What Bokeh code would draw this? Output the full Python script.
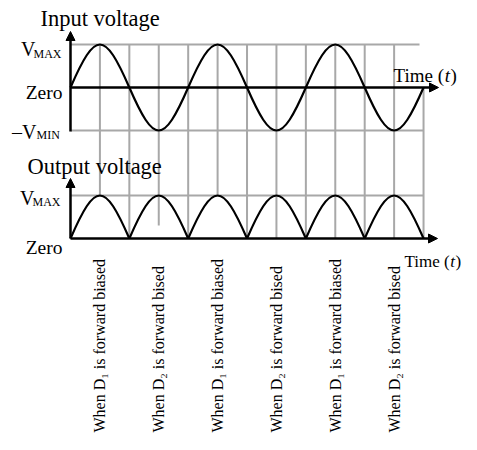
import numpy as np
from bokeh.plotting import figure
from bokeh.models import Range1d, Arrow, NormalHead, ColumnDataSource
from bokeh.core.properties import value
from bokeh.embed import file_html
from bokeh.resources import INLINE

# ---------------- data ----------------
zero_crossings = [0, 2, 4, 6, 8, 10, 12]        # time in grid divisions (quarter periods)
input_peaks = [1, -1, 1, -1, 1, -1]             # +VMAX / -VMIN for each half cycle
output_peaks = [1, 1, 1, 1, 1, 1]               # full-wave rectified output
grid_times = [1, 2, 3, 4, 5, 6, 7, 8, 9, 10, 11, 12]
bias_times = [1, 3, 5, 7, 9, 11]
bias_labels = [
    "When D\u2081 is forward biased",
    "When D\u2082 is forward bised",
    "When D\u2081 is forward biased",
    "When D\u2082 is forward bised",
    "When D\u2081 is forward biased",
    "When D\u2082 is forward bised",
]
input_title = "Input voltage"
output_title = "Output voltage"
zero_label = "Zero"
time_label = ["Time (", "t", ")"]

# ---------------- layout helpers (picture pixels -> data) ----------------
W, HGT = 461, 434
PXU = 29.42   # px per time division
PYU = 43.0    # px per volt unit
def X(px):
    return (px - 70.0) / PXU
def Y(py):
    return (87.0 - py) / PYU

OUT0 = Y(238)           # baseline of output plot
GRAY = "#a8a8a8"
FONT = value("Liberation Serif")

p = figure(width=W, height=HGT, x_range=Range1d(X(0), X(W)),
           y_range=Range1d(Y(HGT), Y(0)), output_backend="svg",
           toolbar_location=None, min_border=0, x_axis_location=None,
           y_axis_location=None, outline_line_color=None)
p.grid.visible = False
p.background_fill_color = "white"

# ---------------- grid ----------------
p.segment(x0=[0, 0, 0], y0=[1, -1, OUT0 + 1], x1=[X(419), 12, 12],
          y1=[1, -1, OUT0 + 1], line_color=GRAY, line_width=2)
grid_top_px = [44, 44, 44, 44, 44, 44, 44, 44, 44, 44, 44, 87]
grid_bot_px = [196, 238, 225, 238, 196, 238, 238, 238, 238, 238, 238, 238]
p.segment(x0=grid_times, y0=[Y(v) for v in grid_top_px],
          x1=grid_times, y1=[Y(v) for v in grid_bot_px],
          line_color=GRAY, line_width=2)

# ---------------- waveforms (half-wave bezier arcs) ----------------
K = 4.0 / (3.0 * np.pi)   # control-point spacing for a half sine arc
H = 4.0 / 3.0
def arcs(base, peaks):
    a = np.array(zero_crossings[:-1], float)
    b = np.array(zero_crossings[1:], float)
    h = np.array(peaks, float)
    return dict(x0=a, y0=np.full_like(a, base), x1=b, y1=np.full_like(a, base),
                cx0=a + K * (b - a), cy0=base + H * h,
                cx1=b - K * (b - a), cy1=base + H * h)

for base, pk in ((0.0, input_peaks), (OUT0, output_peaks)):
    p.bezier(source=ColumnDataSource(arcs(base, pk)), x0="x0", y0="y0",
             x1="x1", y1="y1", cx0="cx0", cy0="cy0", cx1="cx1", cy1="cy1",
             line_color="black", line_width=2.2)

# ---------------- axes with arrows ----------------
def arrow(x0, y0, x1, y1):
    p.add_layout(Arrow(x_start=x0, y_start=y0, x_end=x1, y_end=y1,
                       line_color="black", line_width=2.5,
                       end=NormalHead(size=9, fill_color="black", line_color="black",
                                      line_width=1)))
arrow(0, Y(131), 0, Y(31))
arrow(0, 0, X(438), 0)
arrow(0, OUT0, 0, Y(178))
arrow(0, OUT0, X(437), OUT0)

# ---------------- texts ----------------
def txt(x, y, t, size, align="left", style="normal", baseline="alphabetic", angle=0):
    p.text(x=[x], y=[y], text=[t], text_font=FONT, text_font_size=size,
           text_align=align, text_baseline=baseline, text_font_style=style,
           text_color="black", angle=angle)

txt(X(40), Y(18), input_title, "22.5px")
txt(X(27), Y(166), output_title, "22.5px")

# level labels
txt(X(35), Y(48), "V", "20px", align="right")
txt(X(33), Y(53), "MAX", "12px")
txt(X(62), Y(92), zero_label, "19.5px", align="right")
txt(X(36), Y(131), "\u2013V", "20px", align="right")
txt(X(36), Y(134), "MIN", "12px")
txt(X(34), Y(197), "V", "20px", align="right")
txt(X(32), Y(201), "MAX", "12px")
txt(X(62), Y(247), zero_label, "19.5px", align="right")

# time labels
def time_lbl(px, py, fs):
    txt(X(px), Y(py), time_label[0], f"{fs}px")
    txt(X(px + 2.694 * fs), Y(py), time_label[1], f"{fs}px", style="italic")
    txt(X(px + 2.694 * fs + 0.30 * fs), Y(py), time_label[2], f"{fs}px")
time_lbl(393, 75, 19)
time_lbl(404, 261, 17)

# rotated bias labels
p.text(x=bias_times, y=[Y(432)] * len(bias_times), text=bias_labels,
       text_font=FONT, text_font_size="16px", text_align="left",
       text_baseline="middle", angle=np.pi / 2, text_color="black")

open("out.html", "w").write(file_html(p, INLINE))
